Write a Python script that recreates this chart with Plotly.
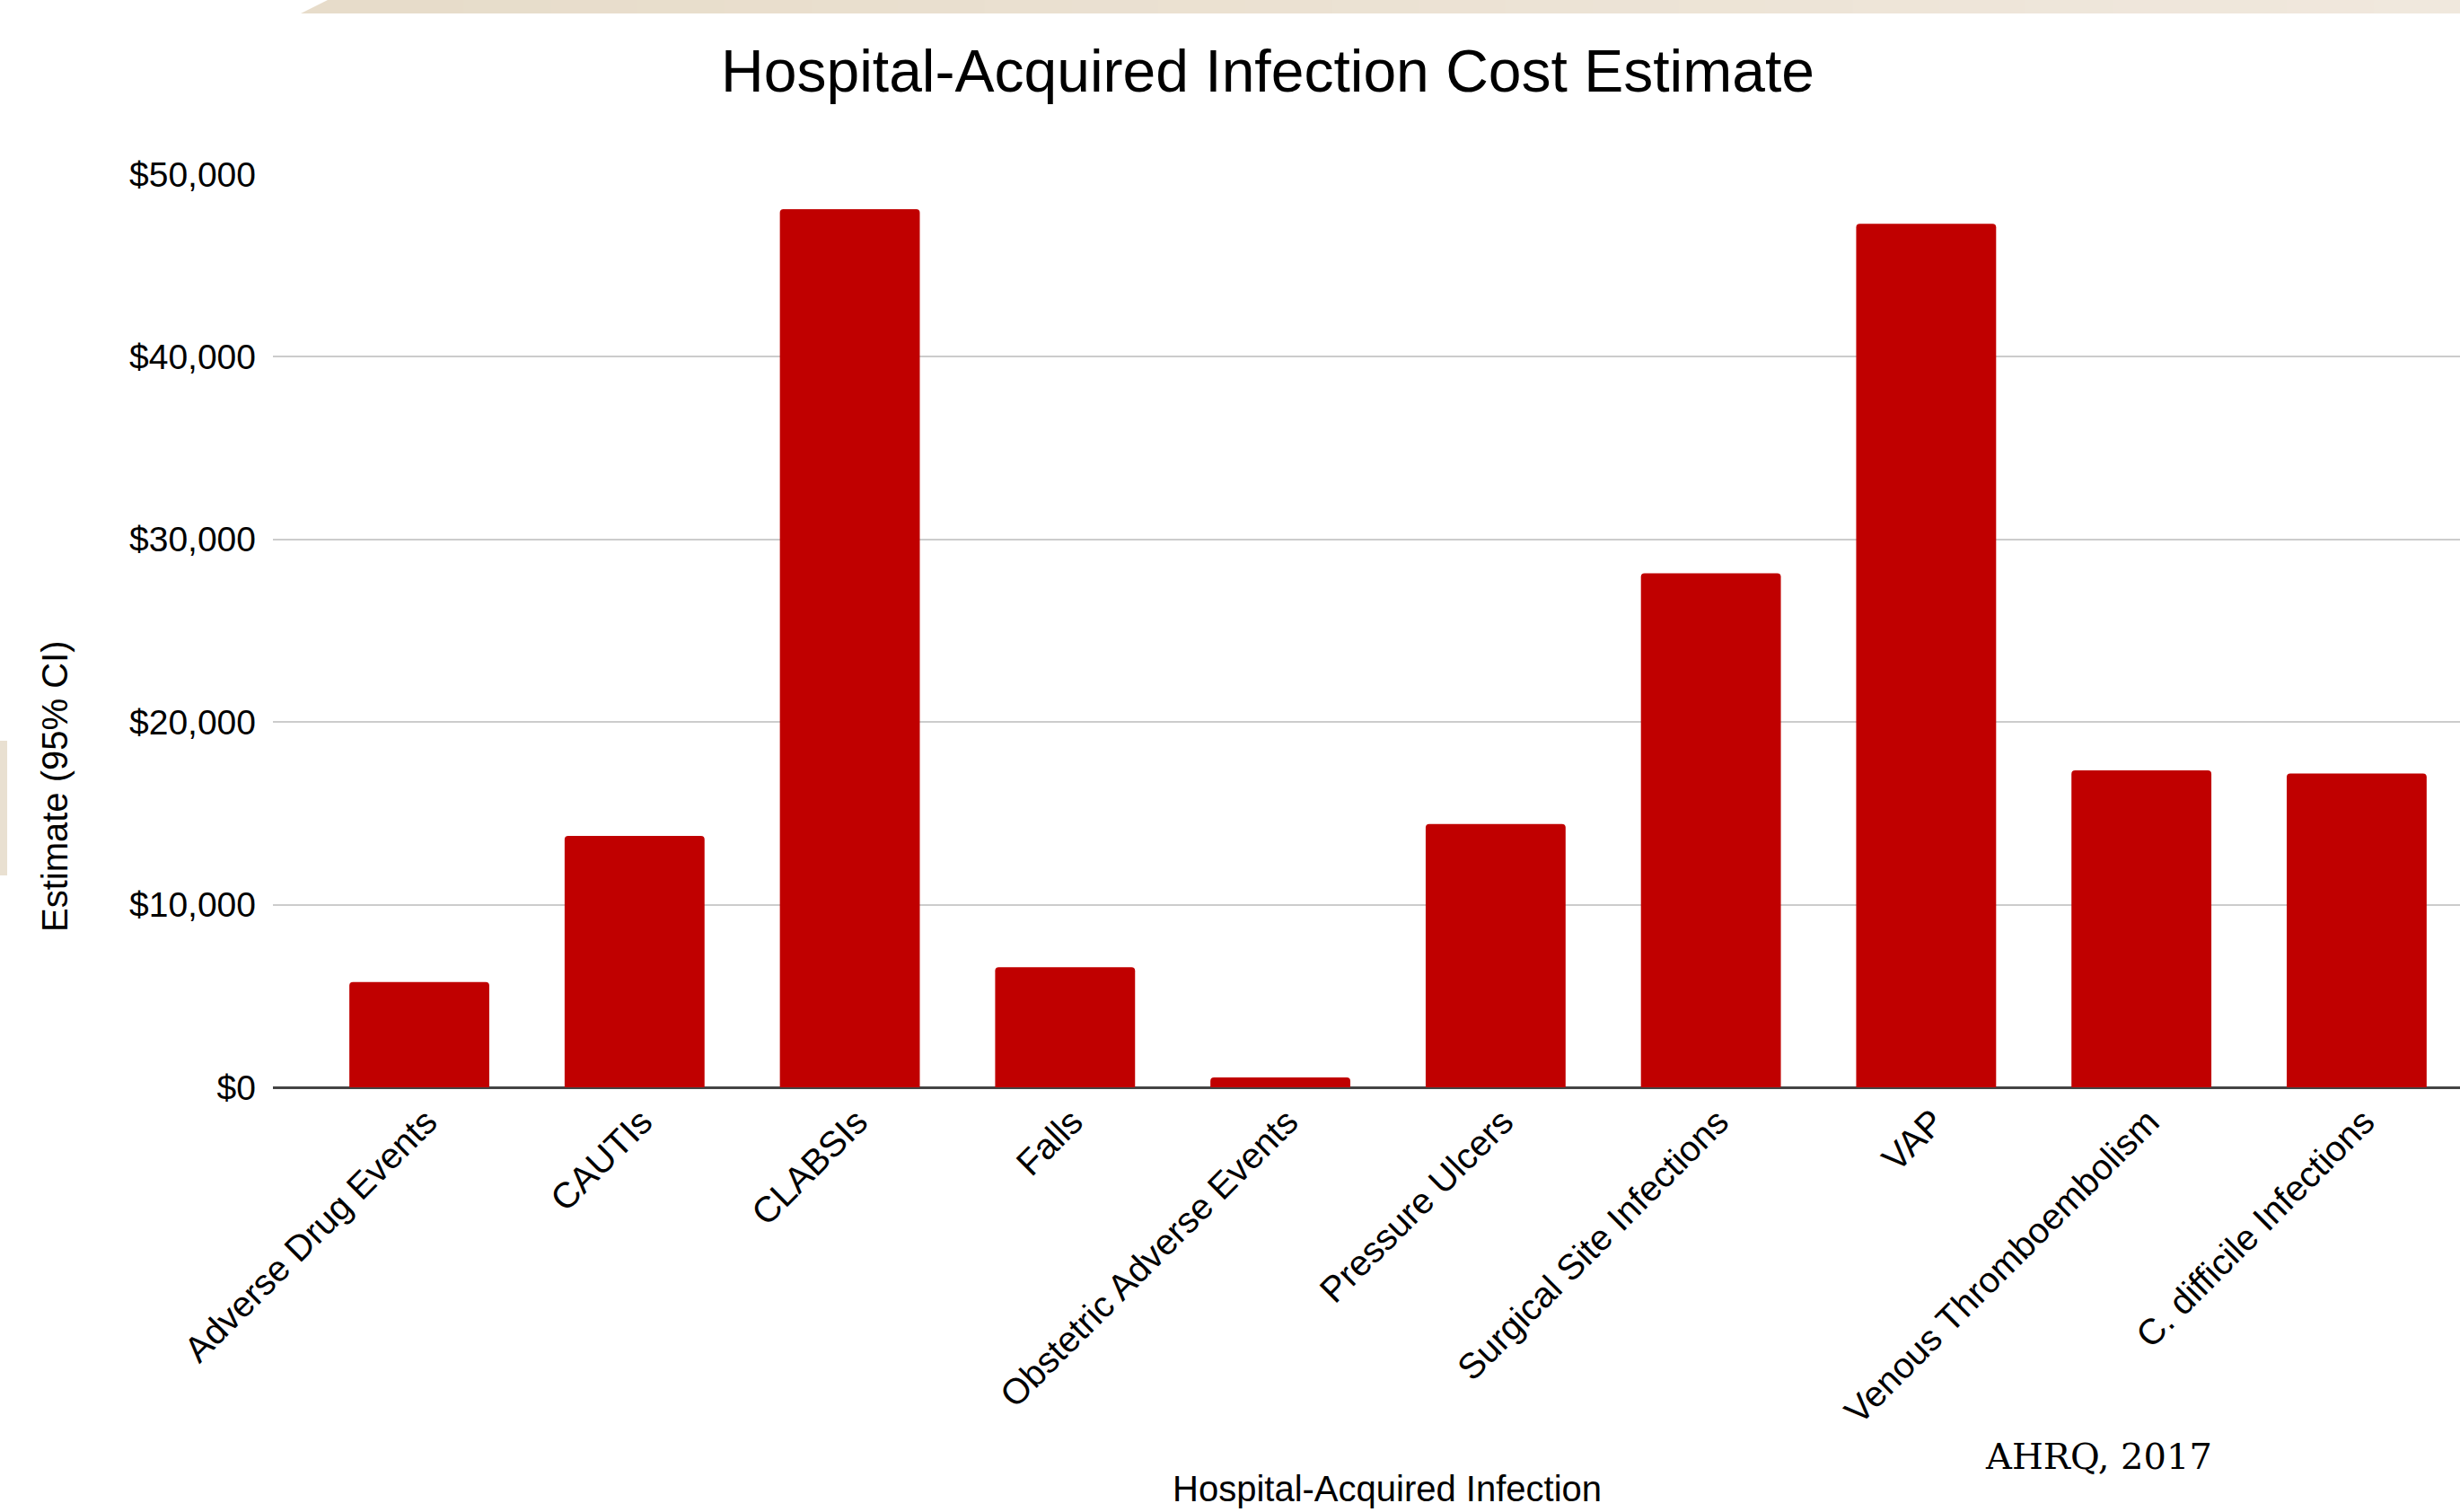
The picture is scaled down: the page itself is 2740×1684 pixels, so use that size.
import plotly.graph_objects as go

categories = [
    "Adverse Drug Events", "CAUTIs", "CLABSIs", "Falls", "Obstetric Adverse Events",
    "Pressure Ulcers", "Surgical Site Infections", "VAP", "Venous Thromboembolism",
    "C. difficile Infections",
]
cost_estimate = [5760, 13770, 48080, 6580, 540, 14420, 28150, 47280, 17360, 17180]
y_tick_values = [0, 10000, 20000, 30000, 40000, 50000]
y_tick_labels = ["$0", "$10,000", "$20,000", "$30,000", "$40,000", "$50,000"]

W, H = 2740, 1684
L, R, T, B = 304, 0, 194, 473
pw, ph = W - L - R, H - T - B

def px(x):
    return (x - L) / pw

def py(y):
    return (H - B - y) / ph

SANS = "Liberation Sans, Arial, sans-serif"

fig = go.Figure(
    go.Bar(
        x=categories,
        y=cost_estimate,
        marker=dict(color="#c00000", line=dict(width=0), cornerradius=4),
        hoverinfo="x+y",
    )
)

# soft tan band along the top edge (background of the source slide)
band_shapes = [
    dict(type="path", xref="paper", yref="paper",
         path=f"M {px(335)} {py(15)} L {px(365)} {py(0)} L {px(420)} {py(0)} L {px(420)} {py(15)} Z",
         fillcolor="#e7dcca", line=dict(width=0), layer="above"),
]
n_steps = 24
c0 = (231, 220, 202)
c1 = (240, 232, 221)
x_start, x_end = 420, 2740
for i in range(n_steps):
    t = i / (n_steps - 1)
    col = tuple(round(c0[k] + (c1[k] - c0[k]) * t) for k in range(3))
    xa = x_start + (x_end - x_start) * i / n_steps
    xb = x_start + (x_end - x_start) * (i + 1) / n_steps + 1
    band_shapes.append(dict(
        type="rect", xref="paper", yref="paper",
        x0=px(xa), x1=px(min(xb, x_end)), y0=py(15), y1=py(0),
        fillcolor="rgb(%d,%d,%d)" % col, line=dict(width=0), layer="above"))
band_shapes.append(dict(
    type="rect", xref="paper", yref="paper",
    x0=px(0), x1=px(8), y0=py(975), y1=py(825),
    fillcolor="#e9e0d1", line=dict(width=0), layer="above"))

fig.update_layout(
    width=W, height=H,
    margin=dict(l=L, r=R, t=T, b=B, pad=0),
    paper_bgcolor="white", plot_bgcolor="white",
    bargap=0.35,
    showlegend=False,
    font=dict(family=SANS, color="#000000"),
    title=dict(
        text="Hospital-Acquired Infection Cost Estimate",
        x=1412 / W, xref="container", xanchor="center",
        y=1 - 79 / H, yref="container", yanchor="middle",
        font=dict(family=SANS, size=66, color="#000000"),
    ),
    xaxis=dict(
        type="category",
        range=[-0.68, 9.48],
        tickangle=-45,
        tickfont=dict(family=SANS, size=40, color="#000000"),
        ticklabelshift=8,
        ticklabelstandoff=6,
        showgrid=False, zeroline=False,
        showline=False, ticks="",
        fixedrange=True,
    ),
    yaxis=dict(
        range=[0, 50000],
        tickvals=y_tick_values,
        ticktext=y_tick_labels,
        tickfont=dict(family=SANS, size=39, color="#000000"),
        showgrid=True, gridcolor="#cccccc", gridwidth=2,
        zeroline=True, zerolinecolor="#444444", zerolinewidth=3,
        showline=False, ticks="",
        ticklabelstandoff=18,
        fixedrange=True,
    ),
    annotations=[
        dict(text="Hospital-Acquired Infection", xref="paper", yref="paper",
             x=px(1545), y=py(1658), xanchor="center", yanchor="middle",
             showarrow=False, font=dict(family=SANS, size=40, color="#000000")),
        dict(text="Estimate (95% CI)", xref="paper", yref="paper",
             x=px(61), y=py(876), xanchor="center", yanchor="middle", textangle=-90,
             showarrow=False, font=dict(family=SANS, size=40, color="#000000")),
        dict(text="AHRQ, 2017", xref="paper", yref="paper",
             x=px(2337), y=py(1622), xanchor="center", yanchor="middle",
             showarrow=False, font=dict(family="DejaVu Serif, serif", size=40, color="#000000")),
    ],
    shapes=band_shapes,
)

fig.write_html("out.html")
